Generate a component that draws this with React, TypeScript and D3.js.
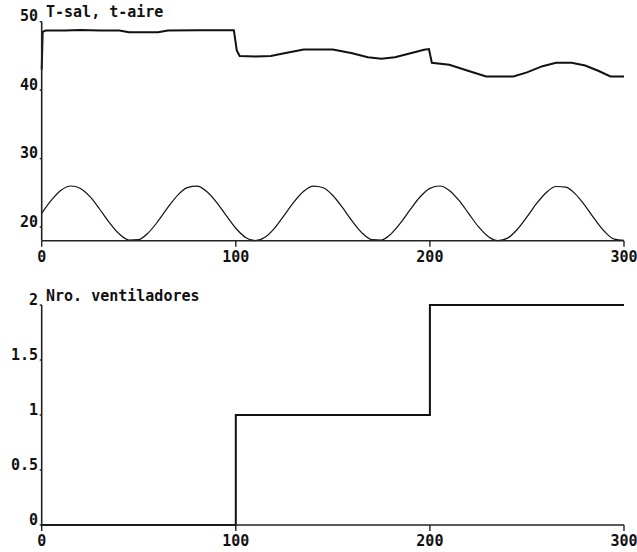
import React from "react";
import * as d3 from "d3";

// ---- Data ----
const tSalTime = [0, 0.5, 2, 12, 20, 30, 40, 45, 60, 65, 80, 99, 100.5, 102, 110, 118, 125, 135, 150, 160, 168, 175, 182, 190, 197, 199.5, 201, 210, 220, 229, 243, 250, 258, 265, 273, 280, 287, 293, 300];
const tSalValue = [43.0, 48.5, 48.7, 48.7, 48.8, 48.7, 48.7, 48.45, 48.45, 48.7, 48.75, 48.75, 45.8, 45.0, 44.9, 45.0, 45.4, 45.95, 45.95, 45.4, 44.8, 44.6, 44.8, 45.4, 45.9, 46.0, 44.0, 43.7, 42.8, 42.0, 42.0, 42.6, 43.5, 44.0, 44.0, 43.6, 42.8, 42.0, 42.0];

const tAireTime = [0, 5, 10, 15, 20, 25, 30, 35, 40, 45, 50, 55, 60, 65, 70, 75, 80, 85, 90, 95, 100, 105, 110, 115, 120, 125, 130, 135, 140, 145, 150, 155, 160, 165, 170, 175, 180, 185, 190, 195, 200, 205, 210, 215, 220, 225, 230, 235, 240, 245, 250, 255, 260, 265, 270, 275, 280, 285, 290, 295, 300];
const tAireValue = [22.0, 23.92, 25.37, 25.99, 25.64, 24.39, 22.56, 20.6, 18.97, 18.09, 18.16, 19.18, 20.88, 22.86, 24.63, 25.75, 25.96, 25.19, 23.65, 21.7, 19.82, 18.48, 18.0, 18.5, 19.85, 21.74, 23.68, 25.22, 25.96, 25.74, 24.6, 22.82, 20.85, 19.15, 18.16, 18.1, 19.0, 20.63, 22.6, 24.42, 25.65, 25.99, 25.35, 23.88, 21.96, 20.05, 18.62, 18.01, 18.38, 19.64, 21.47, 23.44, 25.05, 25.92, 25.82, 24.8, 23.08, 21.1, 19.34, 18.23, 18.05];

const fanTime = [0, 100, 200, 300];
const fanValue = [0, 1, 2, 2];

const xTicks = [0, 100, 200, 300];
const topYTicks = [20, 30, 40, 50];
const botYTicks = [0, 0.5, 1, 1.5, 2];
const topTitle = "T-sal, t-aire";
const botTitle = "Nro. ventiladores";

const FONT = "'DejaVu Sans Mono', monospace";

type Pt = [number, number];

function Panel({
  yDomain, yRange, yTicks, title, series, tickFmt,
}: {
  yDomain: [number, number];
  yRange: [number, number];
  yTicks: number[];
  title: string;
  series: { pts: Pt[]; width: number; curve: d3.CurveFactory }[];
  tickFmt: (v: number) => string;
}) {
  const x = d3.scaleLinear().domain([0, 300]).range([41.7, 624]);
  const y = d3.scaleLinear().domain(yDomain).range(yRange);
  const y0 = yRange[0];
  const yTop = yRange[1];
  return (
    <g>
      {series.map((s, i) => {
        const line = d3.line<Pt>().x((d) => x(d[0])).y((d) => y(d[1])).curve(s.curve);
        return <path key={i} d={line(s.pts) || ""} fill="none" stroke="#111" strokeWidth={s.width} />;
      })}
      {/* y axis */}
      <line x1={x(0)} x2={x(0)} y1={yTop} y2={y0} stroke="#222" strokeWidth={1.6} />
      {yTicks.map((t) => (
        <g key={t}>
          <line x1={x(0) - 2} x2={x(0)} y1={y(t)} y2={y(t)} stroke="#222" strokeWidth={1.4} />
          <text x={38} y={y(t) - 0.5} textAnchor="end" fontFamily={FONT} fontSize={15} fontWeight="bold" fill="#111">
            {tickFmt(t)}
          </text>
        </g>
      ))}
      {/* x axis */}
      <line x1={x(0)} x2={x(300)} y1={y0} y2={y0} stroke="#222" strokeWidth={1.6} />
      {xTicks.map((t) => (
        <g key={t}>
          <line x1={x(t)} x2={x(t)} y1={y0} y2={y0 + 6} stroke="#222" strokeWidth={1.4} />
          <text x={x(t)} y={y0 + 21} textAnchor="middle" fontFamily={FONT} fontSize={15} fontWeight="bold" fill="#111">
            {String(t)}
          </text>
        </g>
      ))}
      <text x={46} y={yTop - 4.5} fontFamily={FONT} fontSize={15} fill="#111" fontWeight="bold">
        {title}
      </text>
    </g>
  );
}

export default function App() {
  const tSal: Pt[] = tSalTime.map((t, i) => [t, tSalValue[i]]);
  const tAire: Pt[] = tAireTime.map((t, i) => [t, tAireValue[i]]);
  const fans: Pt[] = fanTime.map((t, i) => [t, fanValue[i]]);
  return (
    <svg
      width={637}
      height={552}
      style={{ position: "absolute", left: 0, top: 0, background: "#fff" }}
    >
      <rect width={637} height={552} fill="#fff" />
      <Panel
        yDomain={[18, 50]}
        yRange={[240.7, 21.7]}
        yTicks={topYTicks}
        title={topTitle}
        tickFmt={(v) => String(v)}
        series={[
          { pts: tSal, width: 2, curve: d3.curveLinear },
          { pts: tAire, width: 1.2, curve: d3.curveMonotoneX },
        ]}
      />
      <Panel
        yDomain={[0, 2]}
        yRange={[525, 305]}
        yTicks={botYTicks}
        title={botTitle}
        tickFmt={(v) => String(v)}
        series={[{ pts: fans, width: 2, curve: d3.curveStepAfter }]}
      />
    </svg>
  );
}
